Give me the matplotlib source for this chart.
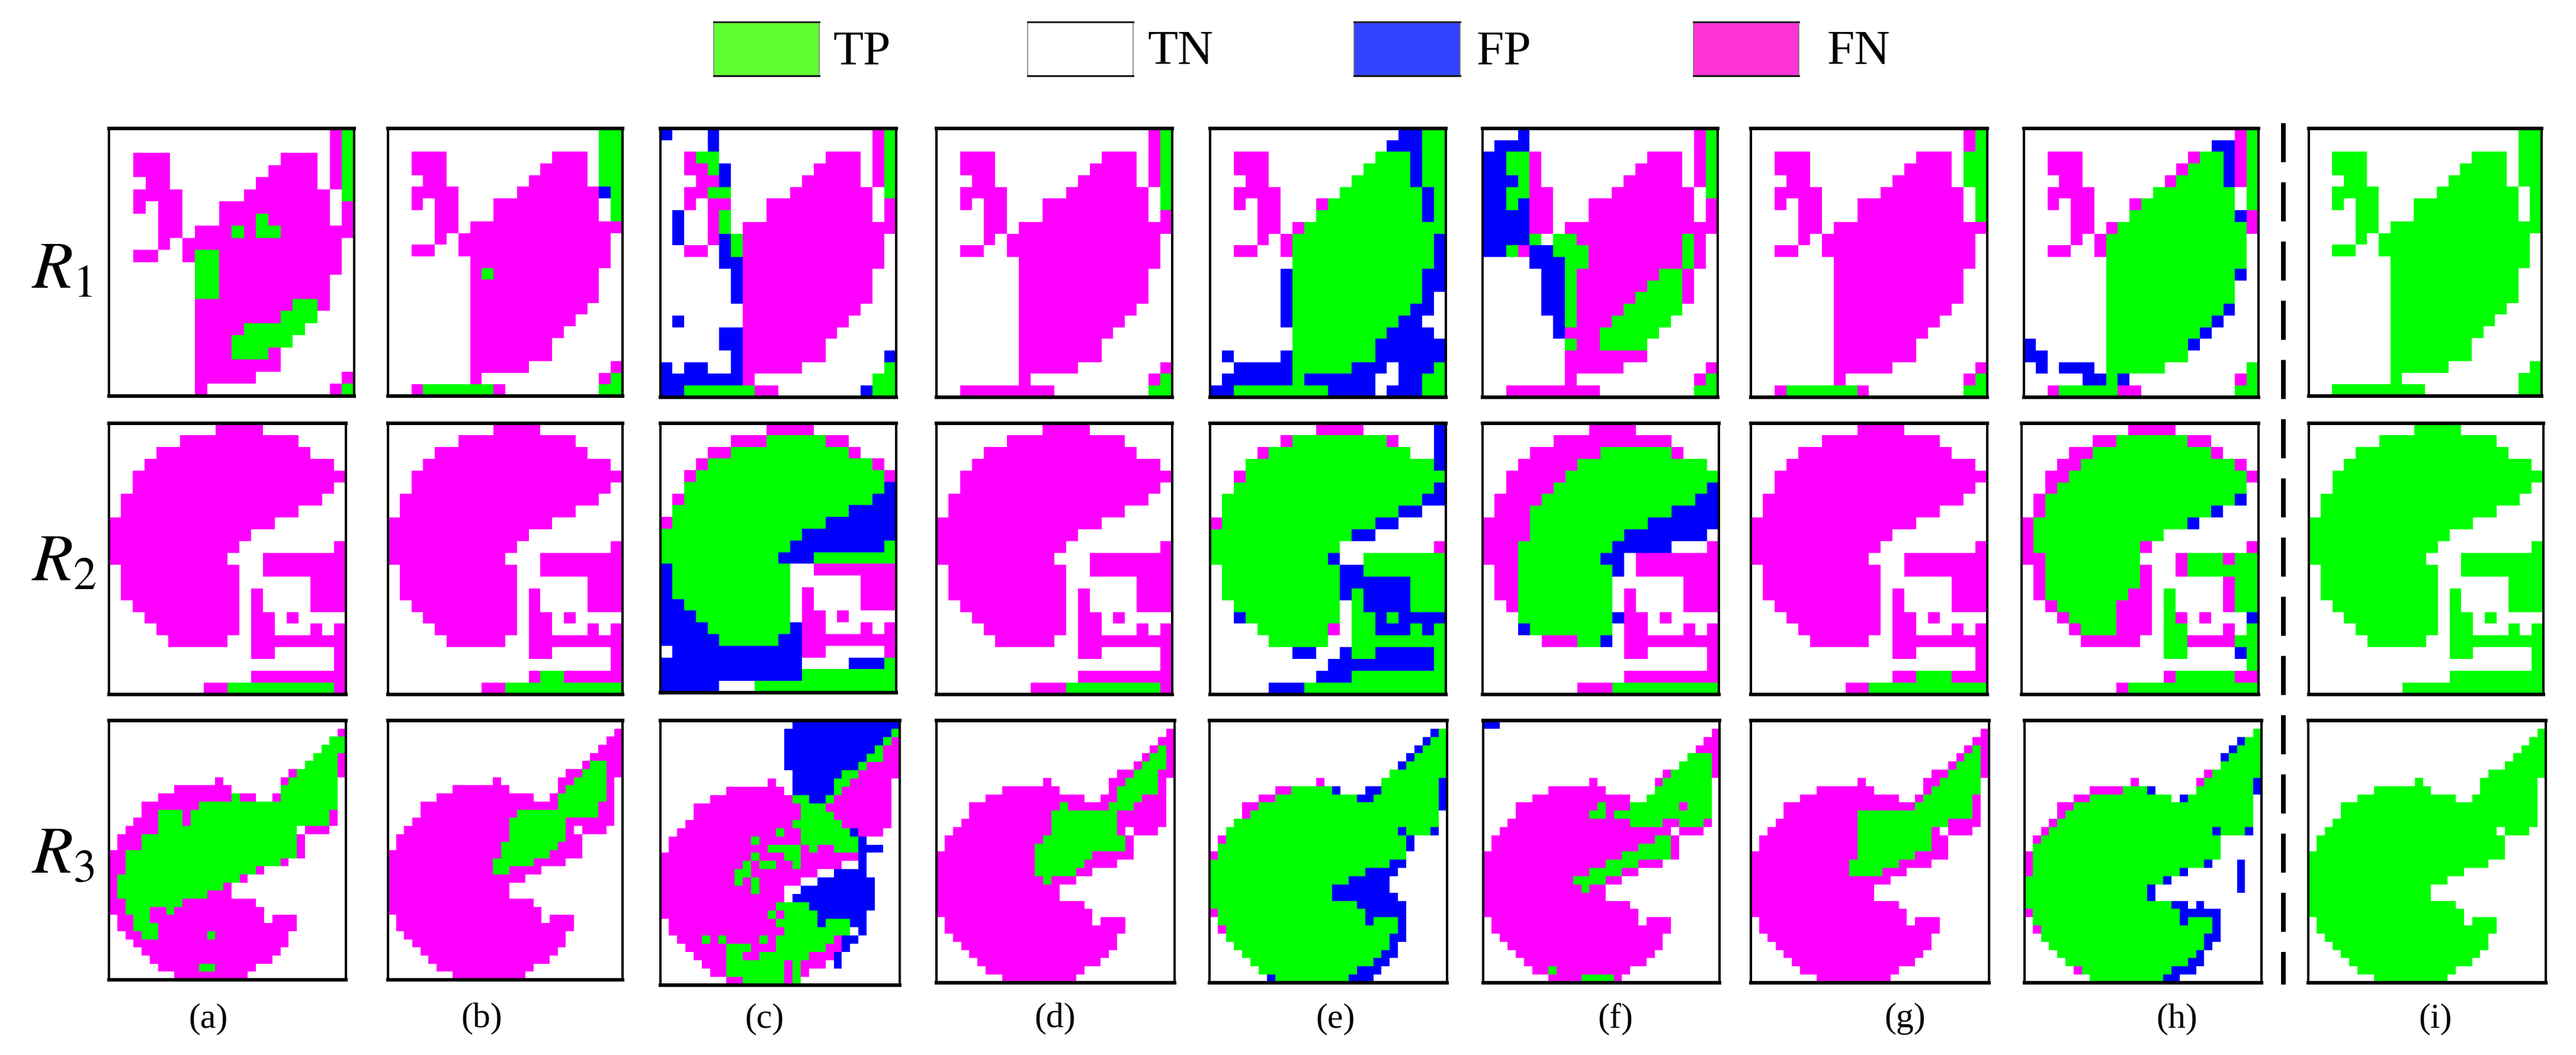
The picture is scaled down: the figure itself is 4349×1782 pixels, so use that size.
import numpy as np
import matplotlib
matplotlib.use("Agg")
import matplotlib.pyplot as plt
from matplotlib.colors import ListedColormap

W, H = 4349, 1783
plt.rcParams['font.family'] = ['Liberation Serif', 'DejaVu Serif']
plt.rcParams['mathtext.fontset'] = 'stix'

LEGEND_LABELS = ["TP", "TN", "FP", "FN"]
PANEL_LABELS = ["(a)", "(b)", "(c)", "(d)", "(e)", "(f)", "(g)", "(h)", "(i)"]
ROW_LABELS = ["$R_1$", "$R_2$", "$R_3$"]
CELL_COLORS = ["#FFFFFF", "#00FF00", "#0000FF", "#FF00FF"]  # TN TP FP FN
LEGEND_COLORS = ["#60FF33", "#FFFFFF", "#3344FF", "#FF33D6"]
SHAPES = [(23, 20), (23, 20), (32, 29)]

# Ground-truth change masks: "row: column ranges"
GT_R1 = """0-1: 18-19
2: 2-4 14-16 18-19
3: 2-4 13-16 18-19
4: 3-4 12-16 18-19
5: 2-5 11-17 19
6: 2 4-5 9-17 19
7: 4-5 9-17 19
8: 4-5 7-19
9: 4 6-18
10: 2-3 6-18
11: 7-18
12-14: 7-17
15: 7-16
16: 7-15
17: 7-14
18-19: 7-13
20: 7-11 19
21: 7 18-19
22: 2-9 18-19"""
GT_R2 = """0: 9-12
1: 6-15
2: 4-16
3: 3-18
4: 2-19
5: 2-18
6: 1-17
7: 1-15
8: 0-13
9: 0-11
10: 0-10 19
11: 0-9 13-19
12: 1-10 13-19
13: 1-10 17-19
14: 1-10 12 17-19
15: 2-10 12 17-19
16: 3-10 12-13 15
17: 4-10 12-13 17 19
18: 5-9 12-19
19: 12-13 19
20: 19
21: 12-19
22: 8-19"""
GT_R3 = """1: 28
2: 27-28
3: 26-28
4: 25-28
5: 24-28
6: 22-28
7: 13 21-27
8: 8-14 21-27
9: 6-17 20-27
10-11: 4-27
12: 3-27
13: 2-22 24-26
14-15: 1-23
16: 0-23
17: 0-21
18: 0-18
19: 0-16
20-21: 0-14
22: 0-17
23: 0-18
24: 1-18 20-22
25: 1-22
26: 2-21
27: 3-21
28: 4-20
29: 5-19
30: 6-17
31: 8-16"""

# Per-method outcome: cells of GT default to FN; G = TP, B = FP, W = TN
R1_A = """0-5: 19G
7: 12G
8: 10G 12-13G
10-13: 7-8G
14: 15-16G
15: 14-16G
16: 11-15G
17: 10-14G
18: 10-12G
21: 19G"""
R1_B = """0-4: 18-19G
5: 18B 19G
6-7: 19G
12: 8G
21: 19G
22: 3-8G 18-19G"""
R1_C = """0: 0B 4B 19G
1: 4B 19G
2: 3-4G 19G
3: 4G 5B 19G
4: 5B 19G
5: 4-5G 19G
7-8: 1B 5G
9: 1B 5B 6G
10: 5B 6G
11: 5-6B
12-14: 6B
16: 1B
17-18: 5-6B
19: 6B 19B
20: 0B 2-3B 6B 19G
21: 0-6B 18-19G
22: 0-1B 2-7G 17B 18-19G"""
R1_D = """0-6: 19G
21: 19G
22: 18-19G"""
R1_E = """0: 16-17B 18-19G
1: 15-17B 18-19G
2: 14-16G 17B 18-19G
3: 13-16G 17B 18-19G
4: 12-16G 17B 18-19G
5: 11-17G 18B 19G
6: 10-17G 18B 19G
7: 9-17G 18B 19G
8: 8-19G
9-11: 7-18G 19B
12-13: 6B 7-17G 18-19B
14: 6B 7-17G 18B
15: 6B 7-16G 17-18B
16: 6B 7-15G 16-17B
17: 7-14G 15-18B
18: 7-13G 14-19B
19: 1B 6B 7-13G 14-19B
20: 2-6B 7-11G 12-14B 16-18B 19G
21: 1-6B 7G 8-13B 16-17B 18-19G
22: 0-1B 2-9G 10-13B 15-17B 18-19G"""
R1_F = """0: 3B 19G
1: 1-3B 19G
2-3: 0-1B 2-3G 19G
4: 0-2B 3G 19G
5: 0-1B 2-3G 19G
6: 0-1B 2G 3B
7-8: 0-3B
9: 0-3B 4G 6-7G 17G
10: 0-1B 2G 4-5B 6-8G 17G
11: 4-6B 7-8G 17G
12: 5-6B 7G 15-16G
13: 5-6B 7G 14-16G
14: 5-6B 7G 13-16G
15: 5-6B 7G 12-16G
16: 6B 7G 11-15G
17: 6B 10-14G
18: 7G 10-13G
21: 19G
22: 18-19G"""
R1_G = """0-1: 19G
2-4: 18-19G
5-7: 19G
21: 19G
22: 3-8G 18-19G"""
R1_H = """0: 19G
1: 16-17B 19G
2: 15-16G 17B 19G
3: 14-16G 17B 19G
4: 13-16G 17B 19G
5: 11-17G 19G
6: 10-17G 19G
7: 9-17G 18B
8: 8-18G
9-11: 7-18G
12: 7-17G 18B
13-14: 7-17G
15: 7-16G 17B
16: 7-15G 16B
17: 7-14G 15B
18: 0B 7-13G 14B
19: 0-1B 7-13G
20: 1B 3-5B 7-11G 19G
21: 5-6B 7G 8B 19G
22: 3-7G 18-19G"""

R2_A = "22: 10-18G"
R2_B = """21: 13-14G
22: 10-19G"""
R2_C = """1: 9-13G
2: 6-15G
3: 4-17G
4: 3-18G
5: 2-18G 19B
6: 2-17G 18-19B
7: 1-15G 16-19B
8: 1-13G 14-19B
9: 0-11G 12-19B
10: 0-10G 11-18B 19G
11: 0-9G 10-12B 13-19G
12-14: 0B 1-10G
15: 0-1B 2-10G
16: 0-2B 3-10G
17: 0-3B 4-10G 11B
18: 0-4B 5-9G 10-11B
19: 1-11B
20: 0-11B 16-18B 19G
21: 0-11B 12-19G
22: 0-4B 8-19G"""
R2_D = "22: 11-18G"
R2_E = """0: 19B
1: 7-14G 19B
2: 5-16G 19B
3: 3-18G 19B
4: 3-19G
5: 2-18G 19B
6: 1-17G 18-19B
7: 1-15G 16-17B
8: 1-13G 14-15B
9: 0-11G 12-13B
10: 0-10G
11: 0-9G 10B 13-19G
12: 1-10G 11-12B 13-19G
13: 1-10G 11-16B 17-19G
14: 1-10G 11B 12G 13-16B 17-19G
15: 2-10G 12G 13-16B 17-19G
16: 2B 3-10G 12-13G 14B 15G 16-19B
17: 4-9G 12-13G 14-16B 17G 18B 19G
18: 5-9G 12-19G
19: 7-8B 11B 12-13G 14-18B 19G
20: 10-18B 19G
21: 9-11B 12-19G
22: 5-7B 8-19G"""
R2_F = """2: 10-15G
3: 8-18G
4: 7-19G
5: 6-18G 19B
6: 5-17G 18-19B
7: 4-15G 16-19B
8: 4-13G 14-19B
9: 4-11G 12-18B
10: 3-10G 11-15B
11: 3-9G 10-11B
12: 3-10G 11B
13-15: 3-10G
16: 3-10G 11B
17: 3B 4-10G
18: 8-9G 10B
22: 11-19G"""
R2_G = """21: 14-16G
22: 10-19G"""
R2_H = """1: 8-13G
2: 6-15G
3: 5-17G
4: 4-18G
5: 3-18G
6: 2-17G 18B
7: 2-15G 16B
8: 1-13G 14B
9: 1-11G
10: 1-9G
11: 2-9G 14-16G 18-19G
12: 2-9G 14-19G
13: 2-9G 18-19G
14: 2-8G 12G 18-19G
15: 3-7G 12G 18-19G
16: 4-7G 12G 19B
17: 5-7G 12-13G 19G
18: 12-13G 18-19G
19: 12-13G 18B 19G
20: 19G
21: 13-17G
22: 9-19G"""

R3_A = """2: 27-28G
3: 26-28G
4: 25-27G
5: 24-27G
6: 23-27G
7: 22-27G
8: 21-27G
9: 15G 21-27G
10: 11-27G
11-12: 6-8G 10-26G
13: 6-22G
14-15: 4-22G
16: 2-22G
17: 2-20G
18: 2-17G
19: 1-15G
20: 1-13G
21: 1-11G
22: 2-8G
23: 2-4G 7G
24: 3-4G
25: 3-5G
26: 4-5G 12G
30: 11-12G"""
R3_B = """5: 25-26G
6: 24-26G
7: 23-26G
8: 22-26G
9: 21-26G
10: 21-25G
11: 16-25G
12-14: 15-21G
15: 14-20G
16: 14-19G
17: 13-17G
18: 13-14G"""
R3_C = """0: 16-28B
1: 15-27B 28G
2: 15-26B 27G
3: 15-25B 26G
4: 15-24B 25-26G
5: 15-23B 24G
6: 16-21B 22-23G
7: 16-20B 21-22G
8: 16-20B 21G
9: 16-17G 18-19B 20G
10: 17-19G
11: 17-20G
12: 16-21G
13: 14G 17-22G 23B
14: 11G 17-23G 24B
15: 13-16G 18G 21-23G 24-26B
16: 11G 15-16G 24B
17: 10G 12-13G 16G 24B
18: 9-10G 21-24B
19: 9G 11G 19-25B
20: 11G 17-25B
21: 16-25B
22: 14-17G 18-25B
23: 13G 15-18G 19-24B
24: 14-18G 19B 20-22G 23-24B
25: 15-22G 24B
26: 5G 7G 12G 14-20G 22-23B
27: 8-10G 14-19G 22B
28: 8-9G 12-17G 21B
29: 8-14G 16G 21B
30: 8-14G 16G
31: 10-14G 16G"""
R3_D = """3: 27G
4: 26-27G
5: 25-27G
6: 24-26G
7: 23-26G
8: 22-26G
9: 22-24G
10: 15G 21-23G
11-13: 14-21G
14: 13-22G
15: 12-22G
16: 12-18G
17: 12-17G
18: 12-16G
19: 13G"""
R3_E = """1: 27B 28G
2: 26B 27-28G
3: 25B 26-28G
4: 24B 25-28G
5: 23B 24-28G
6: 22-28G
7: 21-27G 28B
8: 10-14G 15B 19-20B 21-27G 28B
9: 8-17G 18-19B 20-27G 28B
10: 6-27G 28B
11: 5-27G
12: 3-27G
13: 2-22G 23B 24-26G 27B
14: 2-23G 24B
15: 1-23G 24B
16: 1-23G
17: 0-21G 22-23B
18: 0-18G 19-22B
19: 0-16G 17-21B
20: 0-14G 15-21B
21: 0-14G 15-22B
22: 0-17G 18-23B
23: 1-18G 19-23B
24: 1-18G 19B 20-22G 23B
25: 2-22G 23B
26: 2-21G 22-23B
27: 3-21G 22B
28: 4-20G 21-22B
29: 5-19G 20-21B
30: 6-17G 18-20B
31: 7B 8-16G 17-19B"""
R3_F = """0: 0-1B
4: 25-27G
5: 24-27G
6: 23-27G
7: 22-27G
8: 21-27G
9: 20-27G
10: 14G 18-23G 25-27G
11: 13-14G 16-27G
12: 18-21G 24-26G
14: 21-22G
15: 19-22G
16: 17-22G
17: 15-18G
18: 13-16G
19: 11-14G
20: 12G
30: 8G
31: 12-15G"""
R3_G = """3: 27G
4: 26-27G
5: 25-27G
6: 24-27G
7: 23-27G
8: 22-27G
9: 21-26G
10: 20-26G
11: 13-26G
12: 13-23G
13-15: 13-21G
16: 13-19G
17: 12-17G
18: 12-15G"""
R3_H = """1: 28G
2: 26B 27-28G
3: 25B 26-28G
4: 24B 25-28G
5: 24-28G
6: 23-28G
7: 22-27G 28B
8: 12-14G 15B 21-27G 28B
9: 8-17G 19B 20-27G
10: 6-27G
11: 5-27G
12: 4-27G
13: 3-22G 23B 24-26G 27B
14: 2-23G
15-16: 1-23G
17: 1-21G 22B 26B
18: 1-18G 19B 26B
19: 0-16G 17B 26B
20: 0-14G 15B 26B
21: 0-14G 15B
22: 0-17G 18-19B 21B
23: 1-18G 19-23B
24: 1-18G 19B 20-22G 23B
25: 2-22G 23B
26: 2-21G 22-23B
27: 3-21G 22B
28: 4-20G 21B
29: 5-19G 20-21B
30: 7-17G 18-20B
31: 8-16G 17-18B"""

ROWS = [
    (GT_R1, [R1_A, R1_B, R1_C, R1_D, R1_E, R1_F, R1_G, R1_H]),
    (GT_R2, [R2_A, R2_B, R2_C, R2_D, R2_E, R2_F, R2_G, R2_H]),
    (GT_R3, [R3_A, R3_B, R3_C, R3_D, R3_E, R3_F, R3_G, R3_H]),
]
# layout: outer pixel bounds of panels
XB = [
    [(182, 600), (653, 1053), (1113, 1515), (1579, 1981), (2041, 2443), (2501, 2902), (2954, 3357), (3415, 3815), (3896, 4293)],
    [(182, 586), (653, 1053), (1113, 1515), (1579, 1981), (2041, 2443), (2501, 2904), (2954, 3357), (3411, 3815), (3896, 4296)],
    [(182, 586), (653, 1053), (1113, 1521), (1579, 1985), (2040, 2445), (2502, 2905), (2954, 3360), (3416, 3820), (3895, 4300)],
]
YB = [
    [(215, 673)] * 2 + [(215, 675)] * 6 + [(215, 673)],
    [(713, 1177)] * 2 + [(713, 1174)] * 1 + [(713, 1177)] * 6,
    [(1215, 1659)] * 2 + [(1215, 1668), (1215, 1664)] + [(1215, 1664)] * 5,
]
LABEL_X = [352, 813, 1290, 1781, 2255, 2727, 3216, 3675, 4112]
R_BASE = [487, 980, 1474]
CODE = {"M": 3, "G": 1, "B": 2, "W": 0}


def apply_spec(grid, spec):
    for line in spec.splitlines():
        rows, toks = line.split(":")
        r = rows.split("-")
        r0, r1 = int(r[0]), int(r[-1])
        for tok in toks.split():
            val = CODE.get(tok[-1], 3)
            tok = tok.rstrip("MGBW")
            c = tok.split("-")
            grid[r0:r1 + 1, int(c[0]):int(c[-1]) + 1] = val
    return grid


fig = plt.figure(figsize=(W / 100, H / 100), dpi=100, facecolor="white")
cmap = ListedColormap(CELL_COLORS)


def px_axes(x0, x1, y0, y1):
    return fig.add_axes([x0 / W, 1 - y1 / H, (x1 - x0) / W, (y1 - y0) / H])


for ri, (gt_spec, specs) in enumerate(ROWS):
    gt = apply_spec(np.zeros(SHAPES[ri], dtype=int), gt_spec)
    truth = np.where(gt == 3, 1, 0)
    for ci in range(9):
        grid = truth.copy() if ci == 8 else apply_spec(gt.copy(), specs[ci])
        if ri == 0 and ci == 0:
            grid = grid[:22]
        x0, x1 = XB[ri][ci]
        y0, y1 = YB[ri][ci]
        ax = px_axes(x0 + 2, x1 - 2, y0 + 3, y1 - 3)
        ax.imshow(grid, cmap=cmap, vmin=0, vmax=3, aspect="auto", interpolation="nearest")
        ax.set_xticks([])
        ax.set_yticks([])
        for side, px in (("top", 6), ("bottom", 6), ("left", 4), ("right", 4)):
            ax.spines[side].set_linewidth(px * 0.72)
            ax.spines[side].set_color("black")

ov = fig.add_axes([0, 0, 1, 1], zorder=10)
ov.set_xlim(0, W)
ov.set_ylim(H, 0)
ov.axis("off")
ov.patch.set_alpha(0)

# divider
ov.plot([3855, 3855], [209, 1664], color="black", lw=8 * 0.72, solid_capstyle="butt",
        linestyle=(0, (66 / 8, 34 / 8)), dash_capstyle="butt")

# legend
LEG_BOX = [(1205, 1383), (1735, 1913), (2286, 2465), (2859, 3037)]
LEG_TEXT = [1406, 1937, 2493, 3085]
for lab, col, (x0, x1), tx in zip(LEGEND_LABELS, LEGEND_COLORS, LEG_BOX, LEG_TEXT):
    a = px_axes(x0, x1, 38, 129)
    a.set_facecolor(col)
    a.set_xticks([])
    a.set_yticks([])
    for side, px, c in (("top", 3, "#222222"), ("bottom", 3, "#111111"), ("left", 1.5, "#777777"), ("right", 1.5, "#777777")):
        a.spines[side].set_linewidth(px * 0.72)
        a.spines[side].set_color(c)
    ov.text(tx, 108, lab, fontsize=60, ha="left", va="baseline", color="black")

for lab, x in zip(PANEL_LABELS, LABEL_X):
    ov.text(x, 1735, lab, fontsize=43, ha="center", va="baseline", color="black")

for lab, y in zip(ROW_LABELS, R_BASE):
    ov.text(53, y, lab, fontsize=81, ha="left", va="baseline", color="black")

fig.savefig("out.png", dpi=100, facecolor="white")
